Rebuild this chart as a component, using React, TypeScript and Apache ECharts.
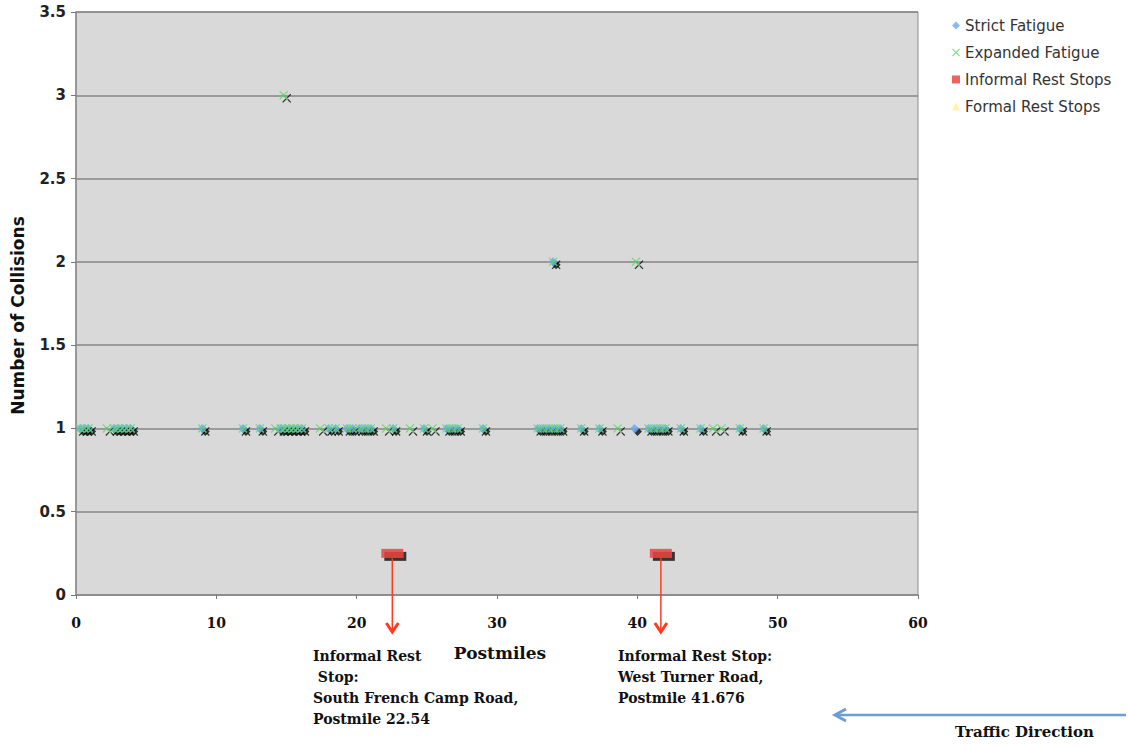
import React, { useEffect, useRef } from "react";
import * as echarts from "echarts";

const xTicks = [0, 10, 20, 30, 40, 50, 60];
const yTicks = [0, 0.5, 1, 1.5, 2, 2.5, 3, 3.5];

const strictAtOne = [0.3, 0.6, 0.9, 2.7, 3.0, 3.3, 3.6, 3.9, 9.0, 11.9, 13.1, 14.6, 14.9, 15.2, 15.5, 15.8, 16.1, 18.0, 18.5, 19.3, 19.7, 20.2, 20.6, 21.0, 22.6, 24.8, 26.4, 26.8, 27.2, 29.0, 32.9, 33.3, 33.7, 34.1, 34.5, 36.0, 37.3, 39.8, 40.8, 41.2, 41.6, 42.0, 43.1, 44.5, 47.3, 49.0];
const strictAtTwo = [34.0];
const expandedAtOne = [0.3, 0.6, 0.9, 2.2, 2.7, 3.0, 3.3, 3.6, 3.9, 9.0, 11.9, 13.1, 14.2, 14.6, 14.9, 15.2, 15.5, 15.8, 16.1, 17.4, 18.0, 18.5, 19.3, 19.7, 20.2, 20.6, 21.0, 22.1, 22.6, 23.8, 24.8, 25.4, 26.4, 26.8, 27.2, 29.0, 32.9, 33.3, 33.7, 34.1, 34.5, 36.0, 37.3, 38.6, 40.8, 41.2, 41.6, 42.0, 43.1, 44.5, 45.4, 46.0, 47.3, 49.0];
const expandedAtTwo = [34.0, 39.9];
const expandedAtThree = [14.8];
const informalStops = [22.54, 41.676];
const informalLevel = 0.25;
const formalStops: number[] = [];

const informalNotes = [
  ["Informal Rest", " Stop:", "South French Camp Road,", "Postmile 22.54"],
  ["Informal Rest Stop:", "West Turner Road,", "Postmile 41.676"],
];

const X_PATH = "path://M0,1 L1,0 L5,4 L9,0 L10,1 L6,5 L10,9 L9,10 L5,6 L1,10 L0,9 L4,5 Z";

const STRICT_COLOR = "#6aaaf0";
const EXP_COLOR = "#5fdc6a";
const INFORMAL_COLOR = "#e83c3c";
const FORMAL_COLOR = "#fff09a";

const shadow = {
  shadowColor: "rgba(0,0,0,0.95)",
  shadowBlur: 1,
  shadowOffsetX: 3,
  shadowOffsetY: 3,
};

export default function App() {
  const ref = useRef<HTMLDivElement>(null);
  useEffect(() => {
    if (!ref.current) return;
    const chart = echarts.init(ref.current, undefined, { renderer: "svg" });
    const strictData = [
      ...strictAtOne.map((x) => [x, 1]),
      ...strictAtTwo.map((x) => [x, 2]),
    ];
    const expandedData = [
      ...expandedAtOne.map((x) => [x, 1]),
      ...expandedAtTwo.map((x) => [x, 2]),
      ...expandedAtThree.map((x) => [x, 3]),
    ];
    const informalData = informalStops.map((x) => [x, informalLevel]);
    const formalData = formalStops.map((x) => [x, informalLevel]);

    chart.setOption({
      animation: false,
      backgroundColor: "#ffffff",
      grid: {
        left: 76,
        top: 12,
        right: 210,
        bottom: 151,
        containLabel: false,
        outerBoundsMode: "none",
        show: true,
        backgroundColor: "#d9d9d9",
        borderColor: "#8c8c8c",
        borderWidth: 1,
      },
      legend: {
        orient: "vertical",
        left: 952,
        top: 18,
        padding: 0,
        itemWidth: 8,
        itemHeight: 8,
        itemGap: 12,
        textStyle: { fontFamily: "DejaVu Sans", fontSize: 15, color: "#333" },
        itemStyle: { shadowColor: "transparent", shadowBlur: 0, shadowOffsetX: 0, shadowOffsetY: 0 },
        data: [
          { name: "Strict Fatigue", icon: "diamond" },
          { name: "Expanded Fatigue", icon: X_PATH },
          { name: "Informal Rest Stops", icon: "rect" },
          { name: "Formal Rest Stops", icon: "triangle" },
        ],
      },
      xAxis: {
        type: "value",
        min: xTicks[0],
        max: xTicks[xTicks.length - 1],
        interval: 10,
        name: "Postmiles",
        nameLocation: "middle",
        nameGap: 49,
        nameTextStyle: { fontFamily: "DejaVu Serif", fontWeight: "bold", fontSize: 17, color: "#111", padding: [0, 0, 0, 6] },
        axisLine: { show: true, lineStyle: { color: "#8c8c8c", width: 1.5 } },
        axisTick: { show: true, length: 4, lineStyle: { color: "#777" } },
        axisLabel: { fontFamily: "DejaVu Serif", fontWeight: "bold", fontSize: 14, color: "#111", margin: 21 },
        splitLine: { show: false },
      },
      yAxis: {
        type: "value",
        min: yTicks[0],
        max: yTicks[yTicks.length - 1],
        interval: 0.5,
        name: "Number of Collisions",
        nameLocation: "middle",
        nameGap: 50,
        nameTextStyle: {
          fontFamily: "DejaVu Sans",
          fontWeight: "bold",
          fontSize: 17,
          color: "#111",
          padding: [0, 24, 0, 0],
        },
        axisLine: { show: true, lineStyle: { color: "#8c8c8c", width: 1.5 } },
        axisTick: { show: true, length: 5, lineStyle: { color: "#777" } },
        axisLabel: { fontFamily: "DejaVu Sans", fontWeight: "bold", fontSize: 15, color: "#222", margin: 10 },
        splitLine: { show: true, lineStyle: { color: "#858585", width: 1.5 } },
      },
      series: [
        {
          name: "Strict Fatigue",
          type: "scatter",
          symbol: "diamond",
          symbolSize: 9,
          itemStyle: { color: STRICT_COLOR, ...shadow },
          data: strictData,
          z: 3,
        },
        {
          name: "Expanded Fatigue",
          type: "scatter",
          symbol: X_PATH,
          symbolSize: 9,
          itemStyle: { color: EXP_COLOR, ...shadow },
          data: expandedData,
          z: 4,
        },
        {
          name: "Informal Rest Stops",
          type: "scatter",
          symbol: "rect",
          symbolSize: [22, 9],
          itemStyle: { color: INFORMAL_COLOR, ...shadow },
          data: informalData,
          z: 5,
        },
        {
          name: "Formal Rest Stops",
          type: "scatter",
          symbol: "triangle",
          symbolSize: 9,
          itemStyle: { color: FORMAL_COLOR },
          data: formalData,
          z: 5,
        },
      ],
    });

    const graphics: any[] = [];
    const notePos = [
      [313, 645],
      [618, 645],
    ];
    informalStops.forEach((x, i) => {
      const top = chart.convertToPixel({ gridIndex: 0 }, [x, informalLevel]) as number[];
      const px = top[0];
      const y0 = top[1] + 5;
      const y1 = 632;
      graphics.push({
        type: "line",
        shape: { x1: px, y1: y0, x2: px, y2: y1 },
        style: { stroke: "#ff3b1f", lineWidth: 1.5 },
        z: 10,
      });
      graphics.push({
        type: "polyline",
        shape: { points: [[px - 6, y1 - 9], [px, y1], [px + 6, y1 - 9]] },
        style: { stroke: "#ff3b1f", lineWidth: 3, fill: "none" },
        z: 10,
      });
      graphics.push({
        type: "text",
        x: notePos[i][0],
        y: notePos[i][1],
        style: {
          text: informalNotes[i].join("\n"),
          fontFamily: "DejaVu Serif",
          fontWeight: "bold",
          fontSize: 14,
          lineHeight: 21,
          fill: "#111",
        },
        z: 10,
      });
    });
    graphics.push({
      type: "line",
      shape: { x1: 835, y1: 715, x2: 1126, y2: 715 },
      style: { stroke: "#6a9fd4", lineWidth: 2.5 },
    });
    graphics.push({
      type: "polyline",
      shape: { points: [[846, 709], [835, 715], [846, 721]] },
      style: { stroke: "#6a9fd4", lineWidth: 3, fill: "none" },
    });
    graphics.push({
      type: "text",
      x: 955,
      y: 724,
      style: {
        text: "Traffic Direction",
        fontFamily: "DejaVu Serif",
        fontWeight: "bold",
        fontSize: 15,
        fill: "#111",
      },
    });
    chart.setOption({ graphic: graphics });

    return () => chart.dispose();
  }, []);
  return (
    <div
      ref={ref}
      style={{ position: "fixed", left: 0, top: 0, width: 1128, height: 746 }}
    />
  );
}
